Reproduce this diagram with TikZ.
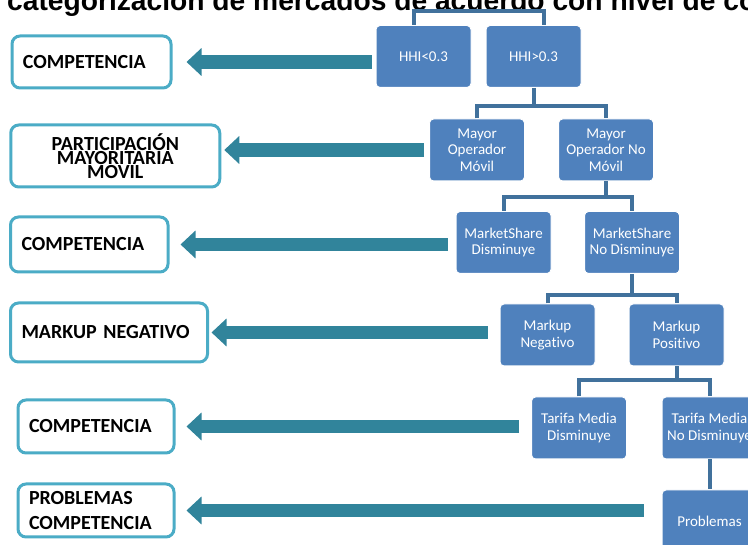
\documentclass[tikz,border=0pt]{standalone}
\usepackage{fontspec}
\setmainfont{Carlito}[Ligatures=NoCommon]
\newfontfamily\titlefont{Liberation Sans}
\usepackage{tikz}
\usetikzlibrary{arrows.meta}
\definecolor{boxblue}{HTML}{4F81BD}
\definecolor{treeblue}{HTML}{41719C}
\definecolor{flowteal}{HTML}{31849B}
\definecolor{frameaqua}{HTML}{4BACC6}
\tikzset{
  leaf/.style={rectangle, rounded corners=4pt, fill=boxblue, draw=white, line width=1pt,
    text=white, minimum width=95pt, minimum height=62pt, inner sep=2pt, align=center,
    font=\fontsize{15}{16.5}\selectfont},
  result/.style={rectangle, rounded corners=8pt, draw=frameaqua, line width=3pt, fill=white,
    inner xsep=11pt, inner ysep=0pt, align=left, font=\bfseries\fontsize{20}{24}\selectfont},
  tree/.style={draw=treeblue, line width=4pt},
  flow/.style={draw=flowteal, line width=13.5pt, -{Triangle[length=15pt, width=27pt]}}
}

\begin{document}
\begin{tikzpicture}[x=1pt, y=-1pt]

\useasboundingbox (0,0) rectangle (748,545);
\clip (0,0) rectangle (748,545);

\node [anchor=base west, inner sep=0pt, font=\titlefont\bfseries\fontsize{28.2}{30}\selectfont] (title)
  at (7,11) {categorización de mercados de acuerdo con nivel de co};

\node [leaf] (H1) at (423.5,56.5) {HHI<0.3};
\node [leaf] (H2) at (533.5,56.5) {HHI>0.3};
\node [leaf] (M1) at (477,150) {Mayor\\Operador\\Móvil};
\node [leaf] (M2) at (606,150) {Mayor\\Operador No\\Móvil};
\node [leaf] (S1) at (503.5,242.5) {MarketShare\\Disminuye};
\node [leaf] (S2) at (632,242.5) {MarketShare\\No Disminuye};
\node [leaf] (K1) at (547.5,335) {Markup\\Negativo};
\node [leaf] (K2) at (676.5,335) {Markup\\Positivo};
\node [leaf] (T1) at (579,428) {Tarifa Media\\Disminuye};
\node [leaf] (T2) at (709.5,428) {Tarifa Media\\No Disminuye};
\node [leaf] (P) at (709.5,521) {Problemas};

\node [result, text width=137pt, minimum height=52pt] (C1) at (91.5,62) {COMPETENCIA};
\node [result, text width=187pt, minimum height=62pt, align=center,
  font=\bfseries\fontsize{20}{13}\selectfont] (C2) at (115.25,156) {PARTICIPACIÓN\\MAYORITARIA\\MOVIL};
\node [result, text width=135.5pt, minimum height=55pt] (C3) at (89.25,244.5) {COMPETENCIA};
\node [result, text width=175pt, minimum height=59pt] (C4) at (109,332.5) {MARKUP NEGATIVO};
\node [result, text width=134pt, minimum height=53pt] (C5) at (96,426.5) {COMPETENCIA};
\node [result, text width=134pt, minimum height=53pt,
  font=\bfseries\fontsize{20}{25}\selectfont] (C6) at (96,510.5) {PROBLEMAS\\COMPETENCIA};

\draw [tree] ([xshift=-10pt]H1.north) -- ++(0,-14) -| ([xshift=10pt]H2.north);

\draw [tree] (H2.south) -- ++(0,18) coordinate (J1);
\draw [tree] (M1.north) |- (J1) -| (M2.north);
\draw [tree] (M2.south) -- ++(0,16) coordinate (J2);
\draw [tree] (S1.north) |- (J2) -| (S2.north);
\draw [tree] (S2.south) -- ++(0,21) coordinate (J3);
\draw [tree] (K1.north) |- (J3) -| (K2.north);
\draw [tree] (K2.south) -- ++(0,14) coordinate (J4);
\draw [tree] (T1.north) |- (J4) -| (T2.north);
\draw [tree] (T2.south) -- (P.north);

\draw [flow, shorten <=4pt, shorten >=14pt] (H1.west |- C1.east) -- (C1.east);
\draw [flow, shorten <=5pt, shorten >=3pt] (M1.west) -- (M1.west -| C2.east);
\draw [flow, shorten <=8pt, shorten >=11pt] (S1.west |- C3.east) -- (C3.east);
\draw [flow, shorten <=12pt, shorten >=2.5pt] (K1.west |- C4.east) -- (C4.east);
\draw [flow, shorten <=12pt, shorten >=11pt] (T1.west |- C5.east) -- (C5.east);
\draw [flow, shorten <=18pt, shorten >=11pt] (P.west |- C6.east) -- (C6.east);

\end{tikzpicture}
\end{document}
